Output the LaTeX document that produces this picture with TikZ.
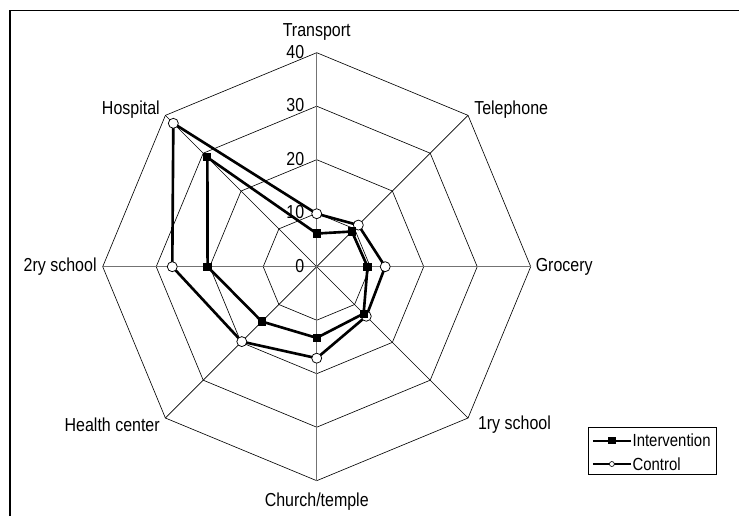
\documentclass[tikz,border=0pt]{standalone}
\usepackage{fontspec}
\setmainfont[FakeStretch=0.85]{Liberation Sans}
\usetikzlibrary{positioning}

\begin{document}
\begin{tikzpicture}[
    x=1.5mm, y=1.5mm,
    grid/.style={black, line width=0.5pt},
    axis/.style={black!55, line width=0.9pt},
    series/.style={black, line width=2.1pt, line join=round},
    imark/.style={rectangle, fill=black, inner sep=0pt, minimum size=2.3mm},
    cmark/.style={circle, draw=black, fill=white, line width=0.6pt, inner sep=0pt, minimum size=2.8mm},
    catlabel/.style={font=\fontsize{15}{17}\selectfont, inner sep=0pt},
    ticklabel/.style={font=\fontsize{15}{17}\selectfont, inner sep=0pt, anchor=east},
    legendtext/.style={font=\fontsize{14}{16}\selectfont, inner sep=0pt, anchor=west}
    ]
    \useasboundingbox (-59.2,-46.6) rectangle (78.93,49.85);

    % frame
    \draw[line width=1.1pt] (-57.33,-46.6) -- (-57.33,47.89) -- (78.93,47.89);

    % axis end points
    \coordinate (center) at (0,0);
    \coordinate (transport) at (90:40);
    \coordinate (telephone) at (45:40);
    \coordinate (grocery) at (0:40);
    \coordinate (primary) at (-45:40);
    \coordinate (church) at (-90:40);
    \coordinate (health) at (-135:40);
    \coordinate (secondary) at (180:40);
    \coordinate (hospital) at (135:40);

    % rings
    \draw[grid] (90:10) -- (45:10) -- (0:10) -- (-45:10) -- (-90:10) -- (-135:10) -- (180:10) -- (135:10) -- cycle;
    \draw[grid] (90:20) -- (45:20) -- (0:20) -- (-45:20) -- (-90:20) -- (-135:20) -- (180:20) -- (135:20) -- cycle;
    \draw[grid] (90:30) -- (45:30) -- (0:30) -- (-45:30) -- (-90:30) -- (-135:30) -- (180:30) -- (135:30) -- cycle;
    \draw[grid] (transport) -- (telephone) -- (grocery) -- (primary) -- (church) -- (health) -- (secondary) -- (hospital) -- cycle;

    % spokes
    \draw[grid] (center) -- (telephone);
    \draw[grid] (center) -- (primary);
    \draw[grid] (center) -- (health);
    \draw[grid] (center) -- (hospital);
    \draw[axis] (center) -- (transport);
    \draw[axis] (center) -- (church);
    \draw[axis] (center) -- (grocery);
    \draw[axis] (center) -- (secondary);

    % scale
    \node[ticklabel] (t0) at (-2.3,0.2) {0};
    \node[ticklabel] (t10) at (-2.3,10.2) {10};
    \node[ticklabel] (t20) at (-2.3,20.2) {20};
    \node[ticklabel] (t30) at (-2.3,30.2) {30};
    \node[ticklabel] (t40) at (-2.3,40.2) {40};

    % category labels
    \node[catlabel, anchor=center] (l-transport) at (0,43.9) {Transport};
    \node[catlabel, anchor=west] (l-telephone) at (29.4,29.3) {Telephone};
    \node[catlabel, anchor=west] (l-grocery) at (40.9,0) {Grocery};
    \node[catlabel, anchor=west] (l-primary) at (30.1,-29.6) {1ry school};
    \node[catlabel, anchor=center] (l-church) at (0,-44.0) {Church/temple};
    \node[catlabel, anchor=east] (l-health) at (-29.3,-29.6) {Health center};
    \node[catlabel, anchor=east] (l-secondary) at (-41.1,0) {2ry school};
    \node[catlabel, anchor=east] (l-hospital) at (-29.3,29.3) {Hospital};

    % Control
    \coordinate (c-transport) at (90:9.9);
    \coordinate (c-telephone) at (45:11);
    \coordinate (c-grocery) at (0:12.8);
    \coordinate (c-primary) at (-45:13.1);
    \coordinate (c-church) at (-90:17.1);
    \coordinate (c-health) at (-135:19.8);
    \coordinate (c-secondary) at (180:27);
    \coordinate (c-hospital) at (135:37.9);
    \draw[series] (c-transport) -- (c-telephone) -- (c-grocery) -- (c-primary) -- (c-church) -- (c-health) -- (c-secondary) -- (c-hospital) -- cycle;

    % Intervention
    \coordinate (i-transport) at (90:6.2);
    \coordinate (i-telephone) at (45:9.3);
    \coordinate (i-grocery) at (0:9.5);
    \coordinate (i-primary) at (-45:12.4);
    \coordinate (i-church) at (-90:13.3);
    \coordinate (i-health) at (-135:14.5);
    \coordinate (i-secondary) at (180:20.4);
    \coordinate (i-hospital) at (135:28.9);
    \draw[series] (i-transport) -- (i-telephone) -- (i-grocery) -- (i-primary) -- (i-church) -- (i-health) -- (i-secondary) -- (i-hospital) -- cycle;

    % markers
    \node[cmark] at (c-transport) {};
    \node[cmark] at (c-telephone) {};
    \node[cmark] at (c-grocery) {};
    \node[cmark] at (c-primary) {};
    \node[cmark] at (c-church) {};
    \node[cmark] at (c-health) {};
    \node[cmark] at (c-secondary) {};
    \node[cmark] at (c-hospital) {};
    \node[imark] at (i-transport) {};
    \node[imark] at (i-telephone) {};
    \node[imark] at (i-grocery) {};
    \node[imark] at (i-primary) {};
    \node[imark] at (i-church) {};
    \node[imark] at (i-health) {};
    \node[imark] at (i-secondary) {};
    \node[imark] at (i-hospital) {};

    % legend
    \node[draw, line width=0.6pt, anchor=north west, minimum width=36mm, minimum height=13.35mm, inner sep=0pt] (legend) at (50.65,-29.9) {};
    \coordinate (li-a) at (51.6,-32.52);
    \coordinate (li-b) at (58.75,-32.52);
    \coordinate (lc-a) at (51.6,-36.88);
    \coordinate (lc-b) at (58.75,-36.88);
    \draw[black, line width=1.8pt] (li-a) -- (li-b);
    \draw[black, line width=1.5pt] (lc-a) -- (lc-b);
    \node[imark, minimum size=2.1mm] (li-mark) at (55.17,-32.52) {};
    \node[cmark, minimum size=1.4mm, line width=0.5pt] (lc-mark) at (55.17,-36.88) {};
    \node[legendtext] (li-text) at (59.0,-32.52) {Intervention};
    \node[legendtext] (lc-text) at (59.0,-36.88) {Control};
\end{tikzpicture}
\end{document}
